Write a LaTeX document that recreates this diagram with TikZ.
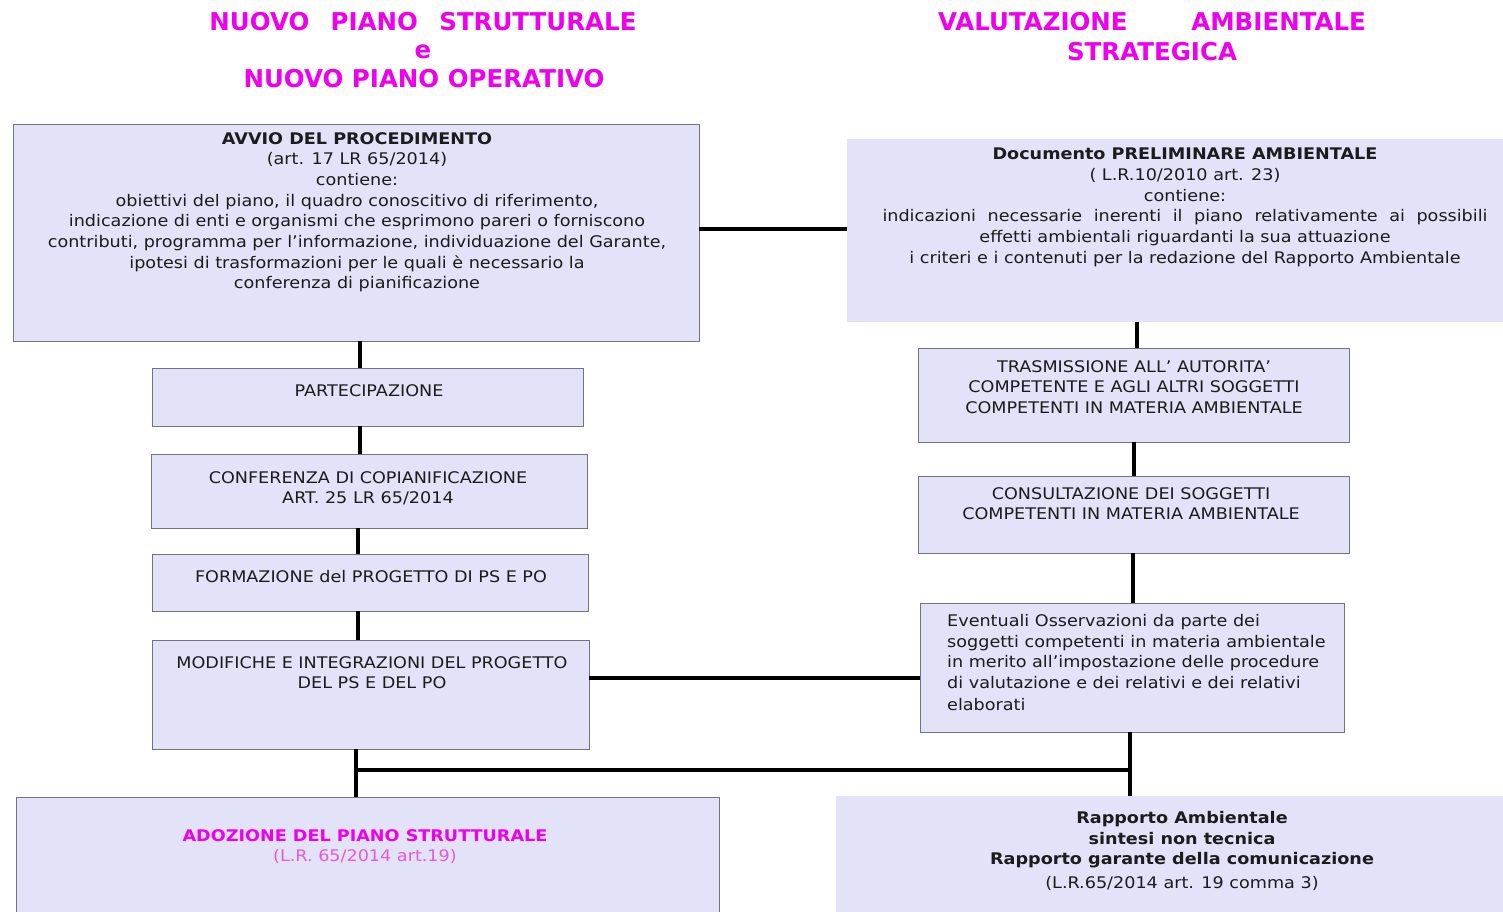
\documentclass[tikz,border=0pt]{standalone}
\usepackage{fontspec}
\setmainfont{DejaVu Sans}[FakeStretch=1.10]
\newfontfamily\titlefont{DejaVu Sans}
\usetikzlibrary{calc}
\definecolor{boxfill}{RGB}{226,226,249}
\definecolor{boxline}{RGB}{115,115,125}
\definecolor{mag}{RGB}{238,0,238}
\definecolor{lmag}{RGB}{228,90,215}
\definecolor{ink}{RGB}{28,28,28}
\begin{document}
\begin{tikzpicture}[x=1pt,y=-1pt,
 box/.style={draw=boxline, line width=0.9pt, fill=boxfill, anchor=north west, inner sep=0, outer sep=0},
 plainbox/.style={fill=boxfill, anchor=north west, inner sep=0, outer sep=0},
 txt/.style={font=\fontsize{16}{20.7}\selectfont, align=center, inner sep=0, anchor=north, text=ink},
 conn/.style={line width=4pt, black},
 ttl/.style={font=\titlefont\fontsize{24.5}{29}\selectfont\bfseries, text=mag, inner sep=0}]

\useasboundingbox (0,0) rectangle (1503,911);
\fill[white] (0,0) rectangle (1503,911);

% titles
\node[ttl] (t1) at (423,22) {NUOVO\hspace{0.87em}PIANO\hspace{0.87em}STRUTTURALE};
\node[ttl] (t1e) at (423,52) {e};
\node[ttl] (t1b) at (424,79) {NUOVO PIANO OPERATIVO};
\node[ttl] (t2) at (1152,22) {VALUTAZIONE\hspace{2.6em}AMBIENTALE};
\node[ttl] (t2b) at (1152,52) {STRATEGICA};

% connectors
\coordinate (jl) at (356,770);
\coordinate (jr) at (1130,770);

% boxes
\node[box, minimum width=686pt, minimum height=217pt] (avvio) at (13,124) {};
\node[plainbox, minimum width=656pt, minimum height=183pt] (doc) at (847,139) {};
\node[box, minimum width=431pt, minimum height=58pt] (part) at (152,368) {};
\node[box, minimum width=436pt, minimum height=74pt] (conf) at (151,454) {};
\node[box, minimum width=436pt, minimum height=57pt] (form) at (152,554) {};
\node[box, minimum width=437pt, minimum height=109pt] (modif) at (152,640) {};
\node[box, minimum width=431pt, minimum height=94pt] (trasm) at (918,348) {};
\node[box, minimum width=431pt, minimum height=77pt] (cons) at (918,476) {};
\node[box, minimum width=424pt, minimum height=129pt] (evnt) at (920,603) {};
\node[box, minimum width=703pt, minimum height=120pt] (adoz) at (16,797) {};
\node[plainbox, minimum width=667pt, minimum height=120pt] (rapp) at (836,796) {};

\draw[conn] ([yshift=4pt]avvio.east) -- ([yshift=4pt]avvio.east -| doc.west);
\draw[conn] (avvio.south -| 360,0) -- (part.north -| 360,0);
\draw[conn] (part.south -| 360,0) -- (conf.north -| 360,0);
\draw[conn] (conf.south -| 358,0) -- (form.north -| 358,0);
\draw[conn] (form.south -| 358,0) -- (modif.north -| 358,0);
\draw[conn] (modif.east |- 0,678) -- (evnt.west |- 0,678);
\draw[conn] (doc.south -| 1137,0) -- (trasm.north -| 1137,0);
\draw[conn] (trasm.south -| 1134,0) -- (cons.north -| 1134,0);
\draw[conn] (cons.south -| 1133,0) -- (evnt.north -| 1133,0);
\draw[conn] (evnt.south -| jr) -- (rapp.north -| jr);
\draw[conn] (modif.south -| jl) -- (adoz.north -| jl);
\draw[conn, line cap=rect] (jl) -- (jr);

% texts
\node[txt] (avviot) at (357,132) {\textbf{AVVIO DEL PROCEDIMENTO}\\(art. 17 LR 65/2014)\\contiene:\\obiettivi del piano, il quadro conoscitivo di riferimento,\\indicazione di enti e organismi che esprimono pareri o forniscono\\contributi, programma per l’informazione, individuazione del Garante,\\ipotesi di trasformazioni per le quali è necessario la\\conferenza di pianificazione};
\node[txt] (doct) at (1185,148) {\textbf{Documento PRELIMINARE AMBIENTALE}\\( L.R.10/2010 art. 23)\\contiene:\\\makebox[605pt][s]{indicazioni necessarie inerenti il piano relativamente ai possibili}\\effetti ambientali riguardanti la sua attuazione\\i criteri e i contenuti per la redazione del Rapporto Ambientale};
\node[txt] (partt) at (369,384) {PARTECIPAZIONE};
\node[txt] (conft) at (368,471) {CONFERENZA DI COPIANIFICAZIONE\\ART. 25 LR 65/2014};
\node[txt] (formt) at (371,570) {FORMAZIONE del PROGETTO DI PS E PO};
\node[txt] (modift) at (372,656) {MODIFICHE E INTEGRAZIONI DEL PROGETTO\\DEL PS E DEL PO};
\node[txt] (trasmt) at (1134,360) {TRASMISSIONE ALL’ AUTORITA’\\COMPETENTE E AGLI ALTRI SOGGETTI\\COMPETENTI IN MATERIA AMBIENTALE};
\node[txt] (const) at (1131,487) {CONSULTAZIONE DEI SOGGETTI\\COMPETENTI IN MATERIA AMBIENTALE};
\node[txt, align=left, anchor=north west] (evntt) at (947,614) {Eventuali Osservazioni da parte dei\\soggetti competenti in materia ambientale\\in merito all’impostazione delle procedure\\di valutazione e dei relativi e dei relativi\\[1.5pt]elaborati};
\node[txt, text=mag] (adozt) at (365,829) {\textbf{ADOZIONE DEL PIANO STRUTTURALE}\\\textcolor{lmag}{(L.R. 65/2014 art.19)}};
\node[txt] (rappt) at (1182,811) {\textbf{Rapporto Ambientale}\\\textbf{sintesi non tecnica}\\\textbf{Rapporto garante della comunicazione}\\[3pt](L.R.65/2014 art. 19 comma 3)};
\end{tikzpicture}
\end{document}
